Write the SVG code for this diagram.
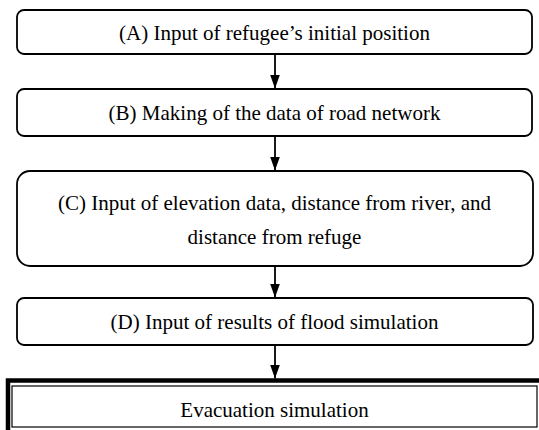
<svg xmlns="http://www.w3.org/2000/svg" width="539" height="430" viewBox="0 0 539 430">
<defs>
<marker id="arr" markerWidth="14" markerHeight="10" refX="14" refY="5" orient="auto" markerUnits="userSpaceOnUse" viewBox="0 0 14 10">
<path d="M0,0 L14,5 L0,10 Z" fill="#000"/>
</marker>
<style>
.box{fill:#fff;stroke:#000;stroke-width:1.8}
.t{font-family:"Liberation Serif","Times New Roman",serif;font-size:21px;fill:#000;text-anchor:middle}
.c{stroke:#000;stroke-width:1.8;fill:none}
</style>
</defs>
<rect width="539" height="430" fill="#fff"/>
<g id="nodeA">
<rect class="box" x="17" y="10" width="515" height="44" rx="7"/>
<text class="t" x="274.5" y="40">(A) Input of refugee’s initial position</text>
</g>
<g id="nodeB">
<rect class="box" x="17" y="89" width="515" height="47" rx="7"/>
<text class="t" x="274.5" y="120">(B) Making of the data of road network</text>
</g>
<g id="nodeC">
<rect class="box" x="17" y="171" width="516" height="95" rx="13"/>
<text class="t" x="274.5" y="210">(C) Input of elevation data, distance from river, and</text>
<text class="t" x="274.5" y="244">distance from refuge</text>
</g>
<g id="nodeD">
<rect class="box" x="17" y="298" width="516" height="47" rx="7"/>
<text class="t" x="274.5" y="329">(D) Input of results of flood simulation</text>
</g>
<g id="nodeE">
<rect x="8" y="380.5" width="540" height="60" fill="#fff" stroke="#000" stroke-width="4.5"/>
<rect x="12" y="386" width="525" height="41" fill="#fff" stroke="#000" stroke-width="1.2"/>
<text class="t" x="274.5" y="417">Evacuation simulation</text>
</g>
<g id="connectors">
<line class="c" x1="275" y1="54" x2="275" y2="88.5" marker-end="url(#arr)"/>
<line class="c" x1="275" y1="136" x2="275" y2="170.5" marker-end="url(#arr)"/>
<line class="c" x1="275" y1="266" x2="275" y2="297.5" marker-end="url(#arr)"/>
<line class="c" x1="275" y1="345" x2="275" y2="378.5" marker-end="url(#arr)"/>
</g>
</svg>
